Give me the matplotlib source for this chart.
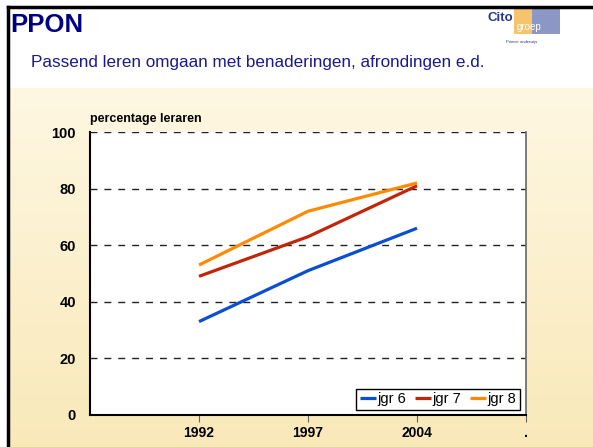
import matplotlib
matplotlib.use("Agg")
import matplotlib.pyplot as plt
import numpy as np
from matplotlib.patches import Rectangle

plt.rcParams['font.family'] = ['Liberation Sans', 'DejaVu Sans']

years = ['1992', '1997', '2004', '.']
jgr6 = [33, 51, 66]
jgr7 = [49, 63, 81]
jgr8 = [53, 72, 82]
series = [('jgr 6', jgr6, '#0a4fd2'), ('jgr 7', jgr7, '#c0260a'), ('jgr 8', jgr8, '#ff8a00')]

fig = plt.figure(figsize=(5.93, 4.47), dpi=100, facecolor='white')

# slide background: white header, cream gradient below
bg = fig.add_axes([0, 0, 1, 1], zorder=-10)
bg.set_xlim(0, 593)
bg.set_ylim(447, 0)
bg.axis('off')
grad = np.linspace(0, 1, 256).reshape(-1, 1)
top_c = np.array([254, 247, 226]) / 255
bot_c = np.array([249, 233, 185]) / 255
img = top_c + grad[..., None] * (bot_c - top_c)
img = np.repeat(img, 2, axis=1)
bg.imshow(img, extent=[10, 593, 447, 88], aspect='auto')
bg.plot([8, 8], [7, 447], color='black', lw=2.5)
bg.plot([8, 593], [7, 7], color='black', lw=2.5)

# logo
bg.add_patch(Rectangle((514, 9), 18, 25, color='#f7c46e', lw=0))
bg.add_patch(Rectangle((532, 9), 28, 25, color='#8d97c6', lw=0))
bg.text(487, 18, 'Cito', color='#2a3585', fontsize=9.5, fontweight='bold', va='center')
bg.text(517, 27, 'groep', color='white', fontsize=7, va='center')
bg.text(506, 42, 'Primair onderwijs', color='#2a3585', fontsize=3, va='center')

fig.text(10 / 593, 1 - 25 / 447, 'PPON', color='#000080', fontsize=18.5,
         fontweight='bold', va='center', ha='left')
fig.text(31 / 593, 1 - 62 / 447, 'Passend leren omgaan met benaderingen, afrondingen e.d.',
         color='#1a1a8a', fontsize=12.3, va='center', ha='left')

ax = fig.add_axes([90 / 593, 1 - 415 / 447, 436 / 593, 283 / 447])
ax.set_facecolor('white')
x = np.arange(1, len(jgr6) + 1)
for name, vals, col in series:
    ax.plot(x, vals, color=col, lw=2.3, label=name, solid_capstyle='butt')

ax.set_xlim(0, 4)
ax.set_ylim(0, 100)
ax.set_xticks(np.arange(1, len(years) + 1))
ax.set_xticklabels(years, fontsize=10, fontweight='bold')
ax.set_yticks(np.arange(0, 101, 20))
ax.set_yticklabels([str(v) for v in range(0, 101, 20)], fontsize=10.5, fontweight='bold')
ax.tick_params(axis='x', direction='out', length=5, color='#666666', pad=3)
ax.tick_params(axis='y', length=0, pad=10)
ax.yaxis.grid(True, linestyle=(0, (5, 5)), color='#222222', lw=1)
ax.xaxis.grid(False)
ax.spines['top'].set_visible(False)
ax.spines['left'].set_linewidth(1.5)
ax.spines['bottom'].set_linewidth(1.5)
ax.spines['right'].set_color('#666666')
ax.spines['right'].set_linewidth(1.2)

ax.text(0, 102.5, 'percentage leraren', fontsize=9, fontweight='bold',
        ha='left', va='bottom', transform=ax.transData)

leg = ax.legend(loc='lower right', ncol=3, fontsize=10.5, handlelength=1.1,
                handletextpad=0.1, columnspacing=0.6, borderpad=0.25,
                fancybox=False, framealpha=1, edgecolor='black',
                bbox_to_anchor=(0.993, 0.008), borderaxespad=0.2)
leg.get_frame().set_linewidth(1)

fig.savefig('out.png', dpi=100, facecolor=fig.get_facecolor())
